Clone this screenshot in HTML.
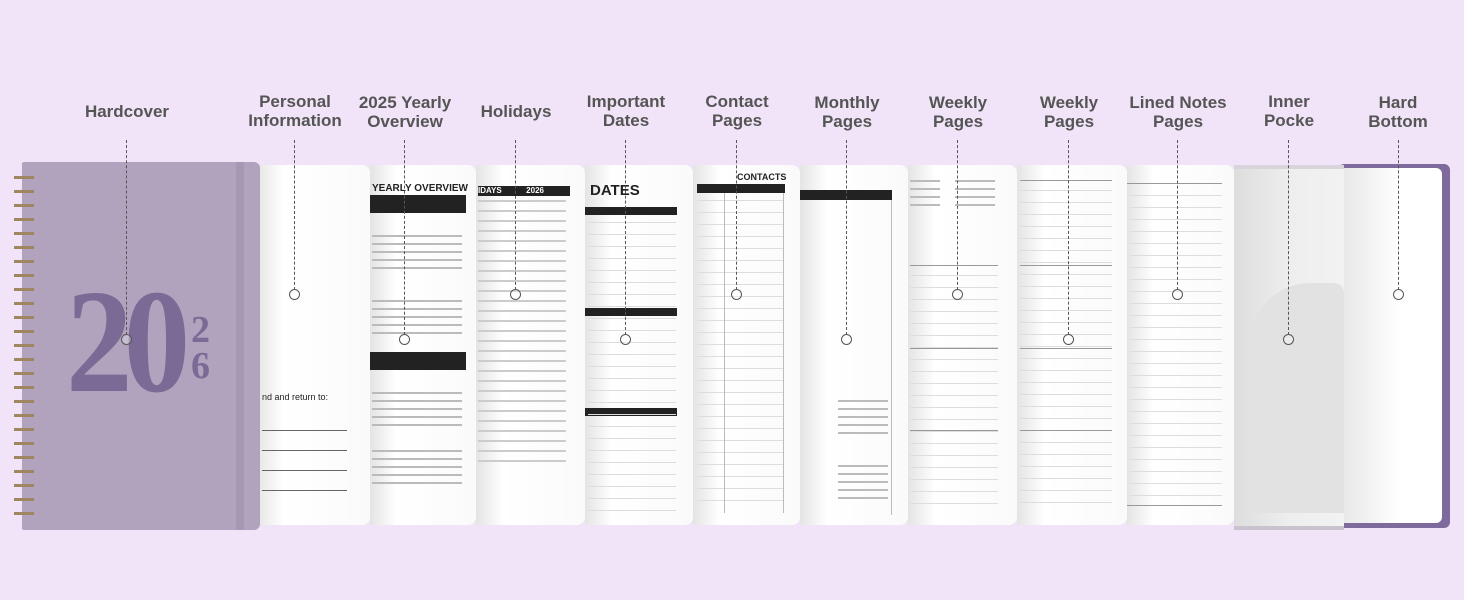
<!DOCTYPE html>
<html><head><style>
body{margin:0;width:1464px;height:600px;background:#f1e4f8;position:relative;overflow:hidden;font-family:"Liberation Sans",sans-serif}
.a{position:absolute}
.lbl{position:absolute;width:140px;margin-left:-70px;text-align:center;font-weight:bold;font-size:17px;line-height:19px;color:#555}
.pg{position:absolute;top:165px;height:360px;background:linear-gradient(90deg,#e4e4e4,#fff 25%,#fafafa);border-radius:0 8px 8px 0}
.dl{position:absolute;width:0;border-left:1.5px dashed #555;top:140px}
.c{position:absolute;width:9px;height:9px;border:1.5px solid #555;border-radius:50%;margin-left:-6px;background:rgba(255,255,255,.3)}
.bar{position:absolute;background:#222}
.tx{position:absolute;background:repeating-linear-gradient(180deg,#bbb 0 2px,transparent 2px 8px)}
.dots{position:absolute;background:repeating-linear-gradient(180deg,#ddd 0 1px,transparent 1px 12px)}
</style></head><body>
<!-- hard bottom -->
<div class="a" style="left:1338px;top:164px;width:112px;height:364px;background:#7e6a9c;border-radius:6px"></div>
<div class="a" style="left:1338px;top:168px;width:104px;height:355px;background:linear-gradient(90deg,#e6e6e6,#fff 60%);border-radius:0 6px 6px 0"></div>
<!-- pocket -->
<div class="a" style="left:1234px;top:165px;width:110px;height:357px;background:linear-gradient(90deg,#ddd,#eee 50%,#f2f2f2);border-top:4px solid #d8d4dc;border-bottom:4px solid #c9c3cf"></div>
<div class="a" style="left:1250px;top:283px;width:94px;height:230px;background:#e2e2e2;border-radius:60px 10px 0 0"></div>
<!-- pages -->
<div class="pg" style="left:1127px;width:107px"></div>
<div class="pg" style="left:1017px;width:110px"></div>
<div class="pg" style="left:908px;width:109px"></div>
<div class="pg" style="left:800px;width:108px"></div>
<div class="pg" style="left:693px;width:107px"></div>
<div class="pg" style="left:585px;width:108px"></div>
<div class="pg" style="left:476px;width:109px"></div>
<div class="pg" style="left:370px;width:106px"></div>
<div class="pg" style="left:255px;width:115px"></div>
<!-- page details -->
<div class="a" style="left:372px;top:183px;font-size:10px;font-weight:bold;color:#222">YEARLY OVERVIEW</div>
<div class="bar" style="left:370px;top:195px;width:96px;height:18px"></div>
<div class="tx" style="left:372px;top:235px;width:90px;height:40px"></div>
<div class="tx" style="left:372px;top:300px;width:90px;height:40px"></div>
<div class="bar" style="left:370px;top:352px;width:96px;height:18px"></div>
<div class="tx" style="left:372px;top:392px;width:90px;height:40px"></div>
<div class="tx" style="left:372px;top:450px;width:90px;height:38px"></div>
<div class="a" style="left:478px;top:186px;width:92px;height:10px;background:#222;color:#fff;font-size:8px;font-weight:bold">IDAYS &nbsp; &nbsp; &nbsp; &nbsp; &nbsp; 2026</div>
<div class="tx" style="left:478px;top:200px;width:88px;height:270px;background:repeating-linear-gradient(180deg,#ccc 0 2px,transparent 2px 10px)"></div>
<div class="a" style="left:590px;top:182px;font-size:15px;font-weight:bold;color:#222">DATES</div>
<div class="bar" style="left:585px;top:207px;width:92px;height:8px"></div>
<div class="bar" style="left:585px;top:308px;width:92px;height:8px"></div>
<div class="bar" style="left:585px;top:408px;width:92px;height:8px"></div>
<div class="dots" style="left:588px;top:222px;width:88px;height:290px"></div>
<div class="a" style="left:737px;top:172px;font-size:9px;font-weight:bold;color:#222">CONTACTS</div>
<div class="bar" style="left:697px;top:184px;width:88px;height:9px"></div>
<div class="dots" style="left:697px;top:200px;width:86px;height:310px"></div>
<div class="a" style="left:724px;top:193px;width:1px;height:320px;background:#bbb"></div>
<div class="a" style="left:783px;top:193px;width:1px;height:320px;background:#bbb"></div>
<div class="bar" style="left:800px;top:190px;width:92px;height:10px"></div>
<div class="a" style="left:891px;top:200px;width:1px;height:315px;background:#bbb"></div>
<div class="tx" style="left:838px;top:400px;width:50px;height:35px"></div>
<div class="tx" style="left:838px;top:465px;width:50px;height:40px"></div>
<div class="tx" style="left:910px;top:180px;width:30px;height:30px"></div>
<div class="tx" style="left:955px;top:180px;width:40px;height:30px"></div>
<div class="a" style="left:262px;top:392px;font-size:9px;color:#222">nd and return to:</div>
<div class="a" style="left:262px;top:430px;width:85px;border-top:1px solid #666"></div>
<div class="a" style="left:262px;top:450px;width:85px;border-top:1px solid #666"></div>
<div class="a" style="left:262px;top:470px;width:85px;border-top:1px solid #666"></div>
<div class="a" style="left:262px;top:490px;width:85px;border-top:1px solid #666"></div>
<div class="dots" style="left:910px;top:275px;width:88px;height:235px"></div>
<div class="dots" style="left:1020px;top:190px;width:92px;height:320px"></div>
<div class="dots" style="left:1130px;top:195px;width:92px;height:305px"></div>
<div class="a" style="left:910px;top:265px;width:88px;border-top:1px solid #999"></div>
<div class="a" style="left:910px;top:348px;width:88px;border-top:1px solid #999"></div>
<div class="a" style="left:910px;top:430px;width:88px;border-top:1px solid #999"></div>
<div class="a" style="left:1020px;top:180px;width:92px;border-top:1px solid #999"></div>
<div class="a" style="left:1020px;top:265px;width:92px;border-top:1px solid #999"></div>
<div class="a" style="left:1020px;top:348px;width:92px;border-top:1px solid #999"></div>
<div class="a" style="left:1020px;top:430px;width:92px;border-top:1px solid #999"></div>
<div class="a" style="left:1127px;top:183px;width:95px;border-top:1px solid #999"></div>
<div class="a" style="left:1127px;top:505px;width:95px;border-top:1px solid #999"></div>
<!-- cover -->
<div class="a" style="left:22px;top:162px;width:238px;height:368px;background:#b1a3bd;border-radius:2px 6px 6px 2px"></div>
<div class="a" style="left:236px;top:162px;width:8px;height:368px;background:#a697b4"></div>
<div class="a" style="left:14px;top:176px;width:20px;height:340px;background:repeating-linear-gradient(180deg,#a08660 0 3px,transparent 3px 14px)"></div>
<div class="a" style="left:66px;top:272px;font-family:'Liberation Serif',serif;font-weight:bold;font-size:148px;line-height:140px;color:#7a6a95;letter-spacing:-10px;transform:scaleX(0.9);transform-origin:left">20</div>
<div class="a" style="left:191px;top:312px;font-family:'Liberation Serif',serif;font-weight:bold;font-size:38px;line-height:36px;color:#7a6a95">2<br>6</div>
<!-- labels -->
<div class="lbl" style="left:127px;top:102px">Hardcover</div>
<div class="lbl" style="left:295px;top:92px">Personal<br>Information</div>
<div class="lbl" style="left:405px;top:93px">2025 Yearly<br>Overview</div>
<div class="lbl" style="left:516px;top:102px">Holidays</div>
<div class="lbl" style="left:626px;top:92px">Important<br>Dates</div>
<div class="lbl" style="left:737px;top:92px">Contact<br>Pages</div>
<div class="lbl" style="left:847px;top:93px">Monthly<br>Pages</div>
<div class="lbl" style="left:958px;top:93px">Weekly<br>Pages</div>
<div class="lbl" style="left:1069px;top:93px">Weekly<br>Pages</div>
<div class="lbl" style="left:1178px;top:93px">Lined Notes<br>Pages</div>
<div class="lbl" style="left:1289px;top:92px">Inner<br>Pocke</div>
<div class="lbl" style="left:1398px;top:93px">Hard<br>Bottom</div>
<!-- leader lines -->
<div class="dl" style="left:126px;height:195px"></div><div class="c" style="left:127px;top:334px"></div>
<div class="dl" style="left:294px;height:150px"></div><div class="c" style="left:295px;top:289px"></div>
<div class="dl" style="left:404px;height:195px"></div><div class="c" style="left:405px;top:334px"></div>
<div class="dl" style="left:515px;height:150px"></div><div class="c" style="left:516px;top:289px"></div>
<div class="dl" style="left:625px;height:195px"></div><div class="c" style="left:626px;top:334px"></div>
<div class="dl" style="left:736px;height:150px"></div><div class="c" style="left:737px;top:289px"></div>
<div class="dl" style="left:846px;height:195px"></div><div class="c" style="left:847px;top:334px"></div>
<div class="dl" style="left:957px;height:150px"></div><div class="c" style="left:958px;top:289px"></div>
<div class="dl" style="left:1068px;height:195px"></div><div class="c" style="left:1069px;top:334px"></div>
<div class="dl" style="left:1177px;height:150px"></div><div class="c" style="left:1178px;top:289px"></div>
<div class="dl" style="left:1288px;height:195px"></div><div class="c" style="left:1289px;top:334px"></div>
<div class="dl" style="left:1398px;height:150px"></div><div class="c" style="left:1399px;top:289px"></div>
</body></html>
